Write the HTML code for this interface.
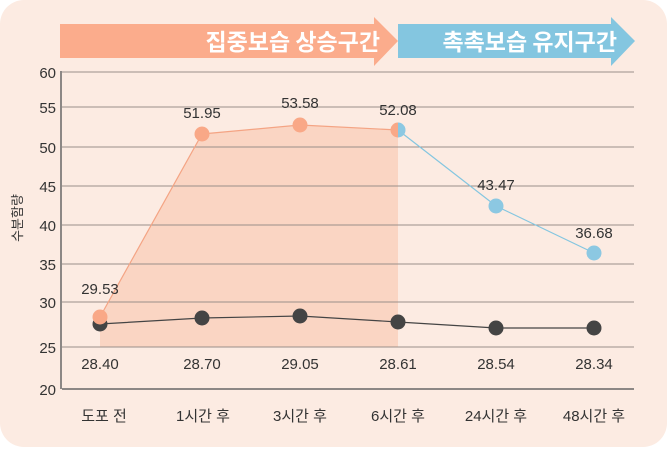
<!DOCTYPE html><html><head><meta charset="utf-8"><style>body{margin:0;background:#fff}</style></head><body>
<svg width="667" height="447" xmlns="http://www.w3.org/2000/svg" font-family="Liberation Sans, Noto Sans CJK KR, sans-serif">
<rect x="0" y="0" width="667" height="447" rx="24" fill="#fcebe2"/>
<polygon points="60,24 374,24 374,17 398,41 374,66 374,58 60,58" fill="#fbac8c"/>
<polygon points="398,24 611,24 611,17 635,41 611,66 611,58 398,58" fill="#84c6e0"/>
<text x="380" y="50" fill="#fff" font-size="23" font-weight="bold" text-anchor="end" font-family="Noto Sans CJK KR, sans-serif">집중보습 상승구간</text>
<text x="617" y="50" fill="#fff" font-size="23" font-weight="bold" text-anchor="end" font-family="Noto Sans CJK KR, sans-serif">촉촉보습 유지구간</text>
<polygon points="100,347 100,317 202,134 300,125 398,130 398,347" fill="#f9cdb8" opacity="0.75"/>
<g stroke="#9a8f8a" stroke-width="1">
<line x1="62" y1="72" x2="634" y2="72"/><line x1="62" y1="107" x2="634" y2="107"/><line x1="62" y1="147" x2="634" y2="147"/><line x1="62" y1="186" x2="634" y2="186"/><line x1="62" y1="225" x2="634" y2="225"/><line x1="62" y1="264" x2="634" y2="264"/><line x1="62" y1="302" x2="634" y2="302"/><line x1="62" y1="347" x2="634" y2="347"/>
</g>
<line x1="62" y1="389" x2="634" y2="389" stroke="#666" stroke-width="1.5"/>
<line x1="61" y1="71" x2="61" y2="389" stroke="#666" stroke-width="1.5"/>
<g font-size="15" fill="#333" text-anchor="end">
<text x="56" y="78">60</text><text x="56" y="113">55</text><text x="56" y="153">50</text><text x="56" y="192">45</text><text x="56" y="231">40</text><text x="56" y="270">35</text><text x="56" y="308">30</text><text x="56" y="353">25</text><text x="56" y="395">20</text>
</g>
<text transform="translate(22,218) rotate(-90)" font-size="13" fill="#333" text-anchor="middle" font-family="Noto Sans CJK KR, sans-serif">수분함량</text>
<polyline points="100,317 202,134 300,125 398,130" fill="none" stroke="#f4a484" stroke-width="1.2"/>
<polyline points="398,130 496,206 594,253" fill="none" stroke="#84c6e0" stroke-width="1.2"/>
<polyline points="100,324 202,318 300,316 398,322 496,328 594,328" fill="none" stroke="#444" stroke-width="1.2"/>
<g fill="#444"><circle cx="100" cy="324" r="7.5"/><circle cx="202" cy="318" r="7.5"/><circle cx="300" cy="316" r="7.5"/><circle cx="398" cy="322" r="7.5"/><circle cx="496" cy="328" r="7.5"/><circle cx="594" cy="328" r="7.5"/></g>
<g fill="#f9a887"><circle cx="100" cy="317" r="7.5"/><circle cx="202" cy="134" r="7.5"/><circle cx="300" cy="125" r="7.5"/><path d="M398,122.5 A7.5,7.5 0 0 0 398,137.5Z"/></g>
<g fill="#8cc8e2"><path d="M398,122.5 A7.5,7.5 0 0 1 398,137.5Z"/><circle cx="496" cy="206" r="7.5"/><circle cx="594" cy="253" r="7.5"/></g>
<g font-size="15" fill="#333" text-anchor="middle">
<text x="100" y="294">29.53</text><text x="202" y="118">51.95</text><text x="300" y="108">53.58</text><text x="398" y="115">52.08</text><text x="496" y="190">43.47</text><text x="594" y="238">36.68</text>
<text x="100" y="369">28.40</text><text x="202" y="369">28.70</text><text x="300" y="369">29.05</text><text x="398" y="369">28.61</text><text x="496" y="369">28.54</text><text x="594" y="369">28.34</text>
</g>
<g font-size="15" fill="#333" text-anchor="middle" font-family="Liberation Sans, Noto Sans CJK KR, sans-serif">
<text x="104" y="421">도포 전</text><text x="203" y="421">1시간 후</text><text x="300" y="421">3시간 후</text><text x="398" y="421">6시간 후</text><text x="496" y="421">24시간 후</text><text x="594" y="421">48시간 후</text>
</g>
</svg>
</body></html>
